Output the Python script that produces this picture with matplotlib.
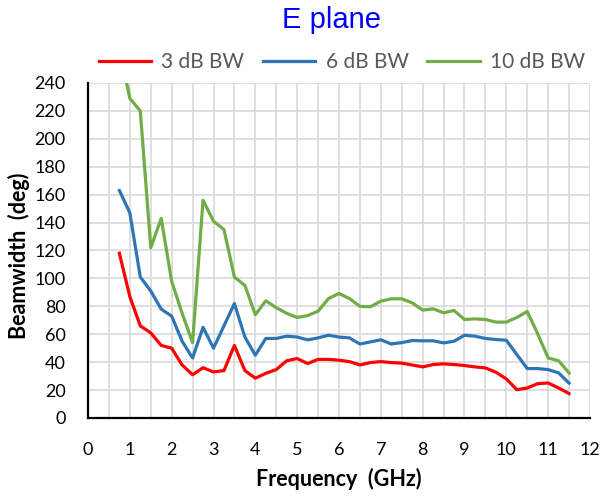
import matplotlib
matplotlib.use("Agg")
import matplotlib.pyplot as plt
from matplotlib.ticker import MultipleLocator

freq = [0.75, 1.0, 1.25, 1.5, 1.75, 2.0, 2.25, 2.5, 2.75, 3.0,
        3.25, 3.5, 3.75, 4.0, 4.25, 4.5, 4.75, 5.0, 5.25, 5.5,
        5.75, 6.0, 6.25, 6.5, 6.75, 7.0, 7.25, 7.5, 7.75, 8.0,
        8.25, 8.5, 8.75, 9.0, 9.25, 9.5, 9.75, 10.0, 10.25, 10.5,
        10.75, 11.0, 11.25, 11.5]

bw3 = [118, 87, 66, 61, 52, 50, 38, 31, 36, 33,
       34, 52, 34, 28.5, 32, 34.7, 41, 42.6, 39, 42,
       42, 41.4, 40.4, 38, 39.7, 40.4, 39.7, 39.3, 38, 36.6,
       38.3, 38.8, 38.3, 37.6, 36.6, 35.9, 32.8, 28, 20.3, 21.5,
       24.6, 25.1, 21.5, 17.5]

bw6 = [163, 147, 101, 91, 78, 73, 55, 43, 65, 50,
       66, 82, 58, 45, 57, 57, 58.6, 58, 56, 57.4,
       59.3, 58, 57.4, 53, 54.5, 56, 53, 54, 55.5, 55.3,
       55.3, 53.8, 55, 59.3, 58.6, 57, 56.2, 55.7, 45.5, 35.4,
       35.4, 34.7, 32.3, 25]

bw10 = [265, 229, 220, 122, 143, 98, 75, 54, 156, 141,
        135, 101, 95, 74, 84, 79, 75, 72, 73.4, 76.5,
        85.6, 89.2, 85.6, 80, 79.7, 83.7, 85.4, 85.4, 82.5, 77.3,
        78.2, 75.4, 77, 70.6, 71, 70.6, 68.7, 68.7, 72, 76.3,
        60.3, 43, 41, 32.3]

labels = ["3 dB BW", "6 dB BW", "10 dB BW"]
colors = ["#FF0000", "#2E75B6", "#70AD47"]

plt.rcParams['font.family'] = ['Lato', 'DejaVu Sans']

W, H = 602, 500
fig = plt.figure(figsize=(W/100, H/100), dpi=100)
ax = fig.add_axes([88/W, 1-418/H, (590-88)/W, (418-83)/H])

for y, lab, c in zip([bw3, bw6, bw10], labels, colors):
    ax.plot(freq, y, color=c, lw=2.3, label=lab, solid_joinstyle='round', zorder=3)

ax.set_xlim(0, 12)
ax.set_ylim(0, 240)
ax.xaxis.set_major_locator(MultipleLocator(1))
ax.xaxis.set_minor_locator(MultipleLocator(0.5))
ax.yaxis.set_major_locator(MultipleLocator(20))
ax.grid(which='both', axis='x', color='#D9D9D9', lw=1.2, zorder=0)
ax.grid(which='major', axis='y', color='#D9D9D9', lw=1.2, zorder=0)
ax.tick_params(which='both', length=0, labelsize=13, colors='black')
ax.tick_params(axis='x', pad=17)
ax.tick_params(axis='y', pad=16)
for s in ['top', 'right']:
    ax.spines[s].set_visible(False)
for s in ['left', 'bottom']:
    ax.spines[s].set_linewidth(1.6)
    ax.spines[s].set_color('black')
    ax.spines[s].set_zorder(4)

ax.set_xlabel("Frequency  (GHz)", fontsize=15.5, fontweight='bold')
ax.xaxis.set_label_coords(0.5, (418-468)/335)
fig.text(19/W, 1-256/H, "Beamwidth  (deg)", fontsize=15.5, fontweight='bold',
         rotation=90, ha='center', va='center')

fig.text(331/W, 1-28.5/H, "E plane", color='#0000FF', fontsize=21,
         family='Liberation Sans', ha='center', va='baseline')

leg = fig.legend(loc='center', bbox_to_anchor=(342/W, 1-62/H), ncol=3,
                 frameon=False, fontsize=15, handlelength=2.5,
                 handletextpad=0.5, columnspacing=0.9)
for t in leg.get_texts():
    t.set_color('#595959')

fig.savefig("out.png", dpi=100)
